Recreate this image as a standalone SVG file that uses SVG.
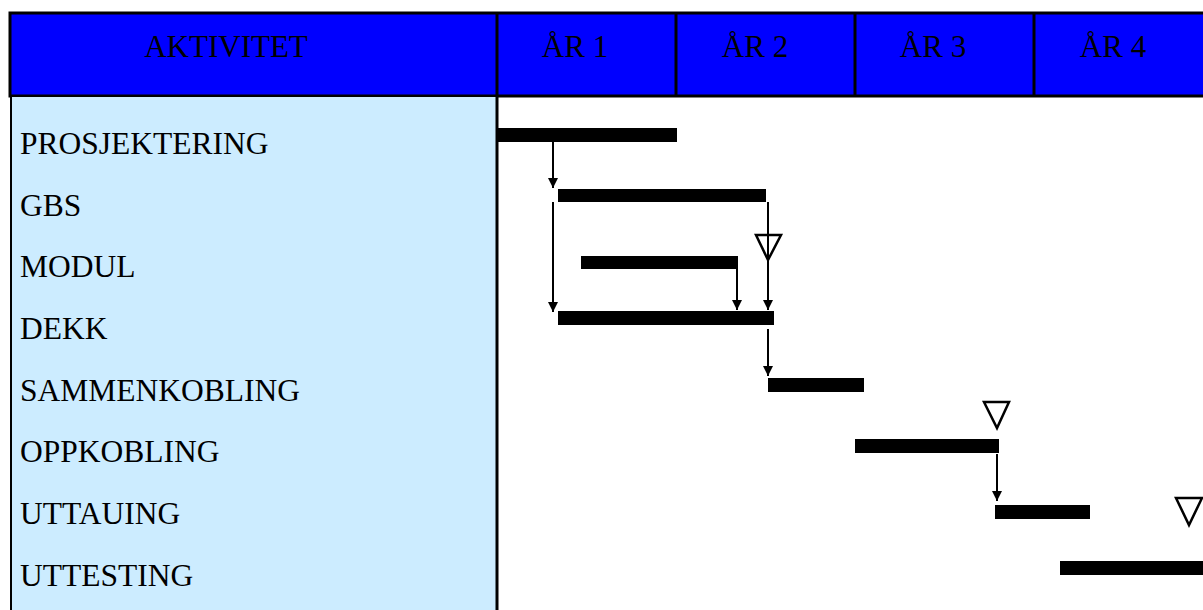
<svg xmlns="http://www.w3.org/2000/svg" width="1203" height="610" viewBox="0 0 1203 610">
<style>
text{font-family:"Liberation Serif","Times New Roman",serif;fill:#000}
.hd{font-size:31px;text-anchor:middle}
.lb{font-size:31.5px}
.bar{fill:#000}
.ln{stroke:#000;stroke-width:2;fill:none}
.ms{stroke:#000;stroke-width:2.5;fill:none;stroke-linejoin:miter}
</style>
<defs>
<marker id="ah" markerUnits="userSpaceOnUse" markerWidth="10" markerHeight="10" refX="10" refY="5" orient="auto" viewBox="0 0 10 10">
<path d="M0,0 L10,5 L0,10 z" fill="#000"/>
</marker>
</defs>
<rect width="1203" height="610" fill="#fff"/>
<g id="header">
<rect x="10" y="13" width="1200" height="83" fill="#0000ff" stroke="#000" stroke-width="3"/>
<line x1="497" y1="13" x2="497" y2="96" stroke="#000" stroke-width="3"/>
<line x1="676" y1="13" x2="676" y2="96" stroke="#000" stroke-width="3"/>
<line x1="855" y1="13" x2="855" y2="96" stroke="#000" stroke-width="3"/>
<line x1="1034" y1="13" x2="1034" y2="96" stroke="#000" stroke-width="3"/>
<text class="hd" x="226" y="57">AKTIVITET</text>
<text class="hd" x="575" y="57">ÅR 1</text>
<text class="hd" x="755" y="57">ÅR 2</text>
<text class="hd" x="933" y="57">ÅR 3</text>
<text class="hd" x="1113" y="57">ÅR 4</text>
</g>
<g id="activity-panel">
<rect x="11" y="97" width="486" height="515" fill="#ccecff"/>
<line x1="11" y1="96" x2="11" y2="610" stroke="#000" stroke-width="2"/>
<line x1="497" y1="96" x2="497" y2="610" stroke="#000" stroke-width="3"/>
</g>
<g id="prosjektering"><text class="lb" x="20" y="154">PROSJEKTERING</text><rect class="bar" x="498" y="128" width="179" height="14"/></g>
<g id="gbs"><text class="lb" x="20" y="216">GBS</text><rect class="bar" x="558" y="189" width="208" height="13"/></g>
<g id="modul"><text class="lb" x="20" y="277">MODUL</text><rect class="bar" x="581" y="256" width="157" height="13"/></g>
<g id="dekk"><text class="lb" x="20" y="339">DEKK</text><rect class="bar" x="558" y="311" width="216" height="14"/></g>
<g id="sammenkobling"><text class="lb" x="20" y="401">SAMMENKOBLING</text><rect class="bar" x="768" y="378" width="96" height="14"/></g>
<g id="oppkobling"><text class="lb" x="20" y="462">OPPKOBLING</text><rect class="bar" x="855" y="439" width="144" height="14"/></g>
<g id="uttauing"><text class="lb" x="20" y="524">UTTAUING</text><rect class="bar" x="995" y="505" width="95" height="14"/></g>
<g id="uttesting"><text class="lb" x="20" y="586">UTTESTING</text><rect class="bar" x="1060" y="561" width="145" height="14"/></g>
<g id="milestones">
<polygon class="ms" points="756,235 781,235 768,260"/>
<polygon class="ms" points="984,402 1009,402 997,428"/>
<polygon class="ms" points="1176,498 1202,498 1189,525"/>
</g>
<g id="connectors">
<line class="ln" x1="553" y1="142" x2="553" y2="188" marker-end="url(#ah)"/>
<line class="ln" x1="553" y1="202" x2="553" y2="312" marker-end="url(#ah)"/>
<line class="ln" x1="737" y1="262" x2="737" y2="310" marker-end="url(#ah)"/>
<line class="ln" x1="768" y1="202" x2="768" y2="310" marker-end="url(#ah)"/>
<line class="ln" x1="768" y1="329" x2="768" y2="376" marker-end="url(#ah)"/>
<line class="ln" x1="997" y1="454" x2="997" y2="501" marker-end="url(#ah)"/>
</g>
</svg>
